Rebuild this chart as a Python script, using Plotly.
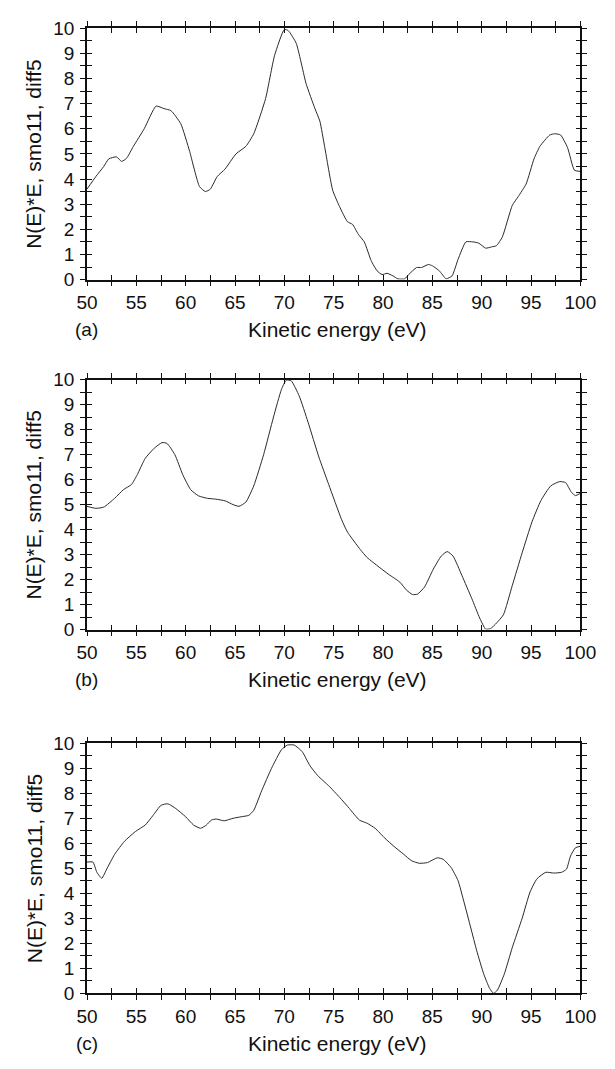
import plotly.graph_objects as go

# Auger spectra: smoothed (11 pt) and differentiated (5 pt) N(E)*E, normalised to 10
energy_a = [50.0, 50.9, 51.7, 52.2, 53.0, 53.5, 54.0, 54.7, 55.8, 57.0, 57.8, 58.5,
            59.5, 60.4, 61.4, 62.0, 62.5, 63.2, 64.0, 65.1, 66.1, 66.9, 68.1, 69.0,
            70.0, 70.4, 71.2, 72.2, 73.1, 73.6, 74.1, 74.9, 75.6, 76.4, 76.9, 77.5,
            78.1, 78.8, 79.4, 79.9, 80.4, 81.0, 81.5, 82.2, 82.6, 83.4, 83.9, 84.6,
            85.0, 85.7, 86.4, 87.0, 87.6, 88.4, 89.1, 89.7, 90.4, 91.0, 91.5, 92.1,
            93.1, 93.7, 94.5, 95.3, 95.9, 96.9, 97.4, 98.0, 98.7, 99.4, 100.0]
signal_a = [3.6, 4.1, 4.5, 4.8, 4.88, 4.7, 4.82, 5.3, 6.0, 6.9, 6.8, 6.72,
            6.2, 5.1, 3.7, 3.5, 3.6, 4.1, 4.4, 5.0, 5.3, 5.8, 7.2, 8.9,
            9.95, 9.9, 9.4, 7.8, 6.8, 6.3, 5.25, 3.55, 2.9, 2.3, 2.2, 1.8,
            1.5, 0.75, 0.35, 0.2, 0.25, 0.15, 0.03, 0.03, 0.2, 0.48, 0.48, 0.6,
            0.55, 0.35, 0.03, 0.15, 0.8, 1.5, 1.5, 1.45, 1.25, 1.3, 1.35, 1.7,
            2.95, 3.3, 3.8, 4.8, 5.3, 5.75, 5.8, 5.75, 5.25, 4.35, 4.3]

energy_b = [50.0, 50.9, 51.7, 52.8, 53.7, 54.5, 55.1, 55.9, 56.8, 57.6, 58.1, 58.9,
            59.7, 60.5, 61.3, 62.2, 63.0, 64.0, 64.8, 65.4, 66.1, 66.9, 67.9, 68.9,
            69.7, 70.2, 70.7, 71.5, 72.4, 73.5, 74.5, 75.8, 76.4, 77.7, 78.4, 79.6,
            80.6, 81.7, 82.4, 83.0, 83.5, 84.2, 85.1, 85.9, 86.5, 87.1, 88.0, 89.0,
            89.8, 90.4, 90.9, 91.5, 92.2, 93.1, 94.1, 95.1, 96.0, 97.0, 97.9, 98.5,
            99.1, 99.5, 100.0]
signal_b = [4.93, 4.85, 4.9, 5.25, 5.6, 5.8, 6.2, 6.85, 7.25, 7.48, 7.45, 7.0,
            6.2, 5.6, 5.35, 5.25, 5.22, 5.15, 5.0, 4.93, 5.1, 5.75, 7.0, 8.5,
            9.6, 9.98, 9.95, 9.35, 8.3, 6.9, 5.8, 4.4, 3.9, 3.2, 2.88, 2.5,
            2.2, 1.9, 1.57, 1.4, 1.42, 1.7, 2.42, 2.94, 3.12, 2.94, 2.16, 1.24,
            0.46, 0.02, 0.04, 0.26, 0.59, 1.76, 3.07, 4.31, 5.16, 5.75, 5.92, 5.88,
            5.49, 5.36, 5.45]

energy_c = [50.0, 50.6, 51.0, 51.5, 52.0, 52.8, 53.8, 54.9, 55.9, 56.7, 57.5, 58.2,
            59.0, 60.0, 60.8, 61.5, 62.1, 62.6, 63.1, 63.9, 64.8, 65.6, 66.4, 66.9,
            67.7, 68.7, 69.7, 70.3, 71.0, 71.8, 72.6, 73.4, 74.5, 75.6, 76.6, 77.6,
            78.4, 79.2, 80.2, 81.1, 82.1, 82.9, 83.7, 84.5, 85.5, 86.1, 86.9, 87.6,
            88.2, 88.9, 89.5, 90.2, 90.8, 91.2, 91.6, 92.3, 93.1, 94.1, 94.9, 95.6,
            96.5, 97.3, 98.1, 98.6, 99.0, 99.5, 100.0]
signal_c = [5.25, 5.25, 4.84, 4.6, 4.97, 5.56, 6.08, 6.47, 6.73, 7.12, 7.52, 7.58,
            7.39, 7.06, 6.73, 6.6, 6.73, 6.93, 6.97, 6.9, 7.0, 7.06, 7.12, 7.32,
            8.1, 9.0, 9.74, 9.93, 9.93, 9.67, 9.1, 8.7, 8.3, 7.84, 7.39, 6.93,
            6.8, 6.6, 6.2, 5.88, 5.56, 5.3, 5.2, 5.23, 5.42, 5.36, 5.03, 4.51,
            3.66, 2.61, 1.7, 0.78, 0.2, 0.0, 0.13, 0.78, 1.83, 3.0, 4.05, 4.58,
            4.84, 4.81, 4.84, 4.97, 5.49, 5.82, 5.88]

panel_labels = ["(a)", "(b)", "(c)"]

x_tick_values = [50, 52.5, 55, 57.5, 60, 62.5, 65, 67.5, 70, 72.5, 75, 77.5,
                 80, 82.5, 85, 87.5, 90, 92.5, 95, 97.5, 100]
x_tick_text = ["50", "", "55", "", "60", "", "65", "", "70", "", "75", "",
               "80", "", "85", "", "90", "", "95", "", "100"]
y_tick_values = [0, 0.5, 1, 1.5, 2, 2.5, 3, 3.5, 4, 4.5, 5, 5.5, 6, 6.5, 7, 7.5,
                 8, 8.5, 9, 9.5, 10]
y_tick_text = ["0", "", "1", "", "2", "", "3", "", "4", "", "5", "", "6", "", "7",
               "", "8", "", "9", "", "10"]

x_title = "Kinetic energy (eV)"
y_title = "N(E)*E, smo11, diff5"

W, H = 615, 1069
FONT = "Liberation Sans, Arial, Helvetica, sans-serif"
INK = "#111111"

x_domain = [79.5 / W, 595.5 / W]
# (top px, bottom px) of each plotting frame
frames = [(18.5, 275.0), (377.0, 632.0), (748.0, 1003.0)]
y_domains = [[1 - b / H, 1 - t / H] for t, b in frames]

series = [(energy_a, signal_a), (energy_b, signal_b), (energy_c, signal_c)]

fig = go.Figure()
layout = dict(
    width=W, height=H,
    margin=dict(l=0, r=0, t=0, b=0),
    paper_bgcolor="white", plot_bgcolor="white",
    showlegend=False,
    font=dict(family=FONT, size=19, color=INK),
)
annotations = []

for i, (ex, sig) in enumerate(series):
    n = i + 1
    ov = n + 3
    xa, ya = f"x{n if n > 1 else ''}", f"y{n if n > 1 else ''}"
    xo, yo = f"x{ov}", f"y{ov}"

    fig.add_trace(go.Scatter(
        x=ex, y=sig, mode="lines", xaxis=xa, yaxis=ya,
        line=dict(color="#2a2a2a", width=1, shape="spline", smoothing=0.5),
        hoverinfo="skip",
    ))
    # empty companion trace so the inward-tick overlay axes are drawn
    fig.add_trace(go.Scatter(x=[None], y=[None], xaxis=xo, yaxis=yo,
                             hoverinfo="skip"))

    common_x = dict(range=[50, 100], domain=x_domain, showgrid=False, zeroline=False,
                    showline=True, linecolor=INK, linewidth=1.6,
                    tickvals=x_tick_values, ticklen=5, tickwidth=1.4, tickcolor=INK,
                    fixedrange=True)
    common_y = dict(range=[0, 10], domain=y_domains[i], showgrid=False, zeroline=False,
                    showline=True, linecolor=INK, linewidth=1.6,
                    tickvals=y_tick_values, ticklen=5, tickwidth=1.4, tickcolor=INK,
                    fixedrange=True)

    layout[f"xaxis{n if n > 1 else ''}"] = dict(
        common_x, anchor=ya, ticks="outside", mirror="allticks",
        ticktext=x_tick_text, ticklabelstandoff=0,
        tickfont=dict(family=FONT, size=19, color=INK))
    layout[f"yaxis{n if n > 1 else ''}"] = dict(
        common_y, anchor=xa, ticks="outside", mirror="allticks",
        ticktext=y_tick_text, ticklabelstandoff=2,
        tickfont=dict(family=FONT, size=19, color=INK))
    layout[f"xaxis{ov}"] = dict(
        common_x, anchor=yo, overlaying=xa, ticks="inside", mirror="allticks",
        showticklabels=False)
    layout[f"yaxis{ov}"] = dict(
        common_y, anchor=xo, overlaying=ya, ticks="inside", mirror="allticks",
        showticklabels=False)

    top, bottom = frames[i]
    y_bottom = 1 - bottom / H
    y_mid = 1 - (top + bottom) / 2 / H
    annotations.append(dict(
        text=x_title, xref="paper", yref="paper", x=342 / W, y=y_bottom,
        xanchor="center", yanchor="middle", yshift=-50, showarrow=False,
        font=dict(family=FONT, size=21, color=INK)))
    annotations.append(dict(
        text=panel_labels[i], xref="paper", yref="paper", x=79 / W, y=y_bottom,
        xanchor="center", yanchor="middle", yshift=-50, showarrow=False,
        font=dict(family=FONT, size=19, color=INK)))
    annotations.append(dict(
        text=y_title, xref="paper", yref="paper", x=24 / W, y=y_mid,
        xanchor="center", yanchor="middle", textangle=-90, showarrow=False,
        font=dict(family=FONT, size=21, color=INK)))

layout["annotations"] = annotations
fig.update_layout(**layout)
fig.write_html("out.html")
